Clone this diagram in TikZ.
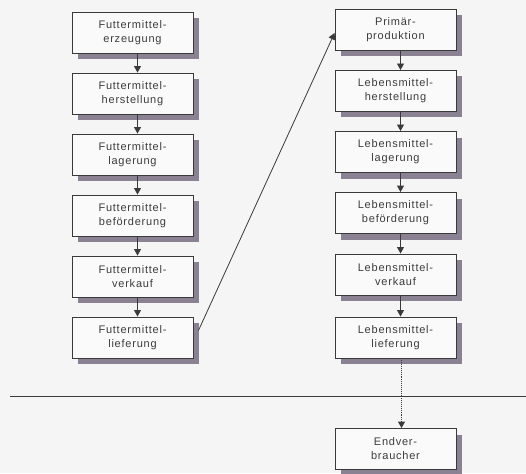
\documentclass[tikz,border=0pt]{standalone}
\usepackage{fontspec}
\setmainfont[LetterSpace=7]{Liberation Sans}
\usetikzlibrary{arrows.meta,shadows}
\definecolor{bgc}{HTML}{F5F5F5}
\definecolor{boxc}{HTML}{FAFAFA}
\definecolor{linec}{HTML}{3A3A3A}
\definecolor{shadc}{HTML}{8A8292}
\definecolor{textc}{HTML}{3C3C3C}
\tikzset{
  stepbox/.style={draw=linec, line width=0.9pt, fill=boxc, rectangle,
    minimum width=121pt, minimum height=41pt, inner sep=0pt, align=center,
    text=textc, font=\fontsize{11}{14}\selectfont,
    drop shadow={shadow xshift=5.5pt, shadow yshift=-6pt, fill=shadc, opacity=1}},
  flow/.style={draw=linec, line width=0.9pt, -{Triangle[length=6.5pt,width=7pt]}},
}
\begin{document}
\begin{tikzpicture}[x=1pt,y=-1pt]
\fill[bgc] (0,0) rectangle (526,473);
\useasboundingbox (0,0) rectangle (526,473);
% left column
\node[stepbox] (f1) at (132.5,32.5) {Futtermittel-\\erzeugung};
\node[stepbox] (f2) at (132.5,93.5) {Futtermittel-\\herstellung};
\node[stepbox] (f3) at (132.5,154.5) {Futtermittel-\\lagerung};
\node[stepbox] (f4) at (132.5,215.5) {Futtermittel-\\beförderung};
\node[stepbox] (f5) at (132.5,276.5) {Futtermittel-\\verkauf};
\node[stepbox] (f6) at (132.5,337.5) {Futtermittel-\\lieferung};
% right column
\node[stepbox] (l1) at (395.5,30) {Primär-\\produktion};
\node[stepbox] (l2) at (395.5,91) {Lebensmittel-\\herstellung};
\node[stepbox] (l3) at (395.5,152) {Lebensmittel-\\lagerung};
\node[stepbox] (l4) at (395.5,213) {Lebensmittel-\\beförderung};
\node[stepbox] (l5) at (395.5,274.5) {Lebensmittel-\\verkauf};
\node[stepbox] (l6) at (395.5,337.5) {Lebensmittel-\\lieferung};
\node[stepbox] (ev) at (395.5,449) {Endver-\\braucher};
% arrows
\foreach \a/\b in {f1/f2,f2/f3,f3/f4,f4/f5,f5/f6,l1/l2,l2/l3,l3/l4,l4/l5,l5/l6}{
  \draw[flow] ([xshift=5pt]\a.south) -- ([xshift=5pt]\b.north);
}
\draw[flow, densely dotted, line width=1.1pt] ([xshift=6pt]l6.south) -- ([xshift=6pt]ev.north);
\draw[flow, line width=0.8pt] ([shift={(5pt,7pt)}]f6.east) -- ([yshift=-3pt]l1.west);
% separator line
\coordinate (sL) at (10,396);
\coordinate (sR) at (526,396);
\draw[linec, line width=1pt] (sL) -- (sR);
\end{tikzpicture}
\end{document}
